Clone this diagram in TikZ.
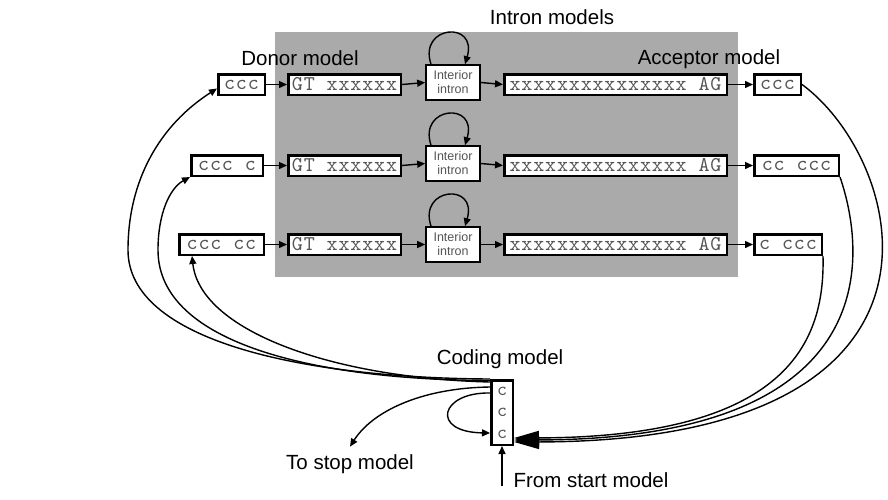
\documentclass[tikz,border=0pt]{standalone}
\usepackage{fontspec}
\usetikzlibrary{arrows.meta}
\newfontfamily\lblfont{Liberation Sans}
\newfontfamily\boxfont{lmmono10-regular.otf}[LetterSpace=4]
\definecolor{panel}{RGB}{170,170,170}
\definecolor{boxtext}{RGB}{85,85,85}

\begin{document}
\begin{tikzpicture}[x=1pt,y=-1pt,
  cbox/.style={draw, line width=2.5pt, fill=white, inner sep=0pt,
    minimum height=20.5pt, text=boxtext,
    font=\boxfont\fontsize{21}{21}\selectfont},
  ibox/.style={draw, line width=2.2pt, fill=white, inner sep=0pt,
    minimum width=53.5pt, minimum height=34.5pt, align=center, text=boxtext,
    font=\lblfont\fontsize{12.5}{14}\selectfont},
  lbl/.style={font=\lblfont\fontsize{20.5}{24}\selectfont, anchor=base},
  link/.style={line width=1.4pt, -{Triangle[length=8pt,width=7pt]}},
  bigarr/.style={line width=1.4pt, -{Triangle[length=25pt,width=14pt]}}]

\useasboundingbox[fill=white] (0,0) rectangle (888,499);

% shaded panel holding the intron models
\fill[panel] (275,32) rectangle (738,277);

% row 1
\node[cbox, minimum width=46.5pt]  (d1) at (241.5,84.5) {ccc};
\node[cbox, minimum width=112.5pt] (g1) at (344.5,84.5) {GT xxxxxx};
\node[ibox] (i1) at (453,82.5) {Interior\\intron};
\node[cbox, minimum width=222.5pt] (s1) at (615.5,84.5) {xxxxxxxxxxxxxxx AG};
\node[cbox, minimum width=46.5pt]  (a1) at (777.5,84.5) {ccc};

% row 2
\node[cbox, minimum width=71.5pt]  (d2) at (227,165.5) {ccc c};
\node[cbox, minimum width=112.5pt] (g2) at (344.5,165.5) {GT xxxxxx};
\node[ibox] (i2) at (453,163.5) {Interior\\intron};
\node[cbox, minimum width=222.5pt] (s2) at (615.5,165.5) {xxxxxxxxxxxxxxx AG};
\node[cbox, minimum width=84.5pt]  (a2) at (796.5,165.5) {cc ccc};

% row 3
\node[cbox, minimum width=84.5pt]  (d3) at (221.5,244.5) {ccc cc};
\node[cbox, minimum width=112.5pt] (g3) at (344.5,244.5) {GT xxxxxx};
\node[ibox] (i3) at (453,244.5) {Interior\\intron};
\node[cbox, minimum width=222.5pt] (s3) at (615.5,244.5) {xxxxxxxxxxxxxxx AG};
\node[cbox, minimum width=67.5pt]  (a3) at (788,244.5) {c ccc};

% coding model
\node[cbox, minimum width=21.5pt, minimum height=64.5pt, align=center,
      font=\boxfont\fontsize{19}{21.5}\selectfont] (cod) at (502,412.5) {c\\c\\c};

% labels
\node[lbl] (tIntron) at (552,24) {Intron models};
\node[lbl] (tDonor) at (300,65) {Donor model};
\node[lbl] (tAcc) at (709,64) {Acceptor model};
\node[lbl] (tCod) at (500,364) {Coding model};
\node[lbl] (stop) at (350,469) {To stop model};
\node[lbl, anchor=base west] (start) at (510,487) {From start model};
\coordinate (stIn) at (502,486);

% transitions along each row
\foreach \r in {1,2,3} {
  \draw[link] (d\r.east) -- (g\r.west);
  \draw[link] (g\r.east) -- (i\r.west);
  \draw[link] (i\r.east) -- (s\r.west);
  \draw[link] (s\r.east) -- (a\r.west);
  \draw[link] ([xshift=-22pt]i\r.north) .. controls +(-13,-39) and +(13,-44) .. ([xshift=12pt]i\r.north);
}

% coding model into the donor states
\draw[link] (cod.north west) .. controls (300,378) and (128,340) .. (128,250)
  .. controls (128,180) and (160,125) .. ([yshift=-4pt]d1.west);
\draw[link] ([yshift=-1.5pt]cod.north west) .. controls (320,380) and (158,345) .. (158,250)
  .. controls (158,213) and (170,188) .. (d2.south west);
\draw[link] ([yshift=-3pt]cod.north west) .. controls (330,378) and (200,330) .. ([xshift=14pt]d3.south west);

% acceptor states back into the coding model
\draw[bigarr] (a1.east) .. controls (905,160) and (985,441) .. ([yshift=4pt]cod.south east);
\draw[bigarr] (a2.south east) .. controls (865,250) and (890,439) .. ([yshift=6pt]cod.south east);
\draw[bigarr] (a3.south east) .. controls (825,340) and (790,437) .. ([yshift=8pt]cod.south east);

% coding self loop, exit and entry
\draw[link] ([yshift=-14pt]cod.north west) .. controls (440,392) and (430,432) .. ([yshift=13pt]cod.south west);
\draw[link] ([yshift=-8pt]cod.north west) .. controls (420,388) and (372,412) .. ([yshift=4pt]stop.north);
\draw[link] (stIn) -- (cod.south);

\end{tikzpicture}
\end{document}
